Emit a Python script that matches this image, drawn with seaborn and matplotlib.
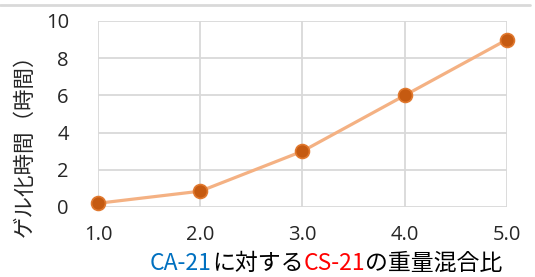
import numpy as np
import pandas as pd
import matplotlib
matplotlib.use("Agg")
import matplotlib.pyplot as plt
import seaborn as sns
from matplotlib.offsetbox import TextArea, HPacker, AnnotationBbox
from matplotlib.lines import Line2D

# data
ratio = [1.0, 2.0, 3.0, 4.0, 5.0]
gel_time = [0.2, 0.85, 3.0, 6.0, 9.0]
y_ticks = [0, 2, 4, 6, 8, 10]

df = pd.DataFrame({"ratio": ratio, "gel_time": gel_time})

sns.set_style("whitegrid", {"grid.color": "#D9D9D9"})
plt.rcParams['font.family'] = ['Noto Sans CJK JP', 'DejaVu Sans']

fig = plt.figure(figsize=(5.35, 2.77), dpi=100)
ax = fig.add_axes([98 / 535, 1 - 207 / 277, 409 / 535, 186 / 277])

sns.lineplot(data=df, x="ratio", y="gel_time", ax=ax, color="#F4B183",
             linewidth=2.3, marker="o", markersize=10,
             markerfacecolor="#C55A11", markeredgecolor="#E0782E",
             markeredgewidth=1.2, clip_on=False, zorder=5)

ax.set_xlim(1.0, 5.0)
ax.set_ylim(0, 10)
ax.set_xticks(ratio)
ax.set_xticklabels([f"{v:.1f}" for v in ratio])
ax.set_yticks(y_ticks)
ax.grid(True, color="#D9D9D9", linewidth=1.3)
for s in ax.spines.values():
    s.set_visible(False)
ax.tick_params(axis="y", length=0, pad=21, labelsize=14.5)
ax.tick_params(axis="x", length=0, pad=13, labelsize=14.5)
for lab in ax.get_xticklabels() + ax.get_yticklabels():
    lab.set_fontfamily(["Open Sans", "DejaVu Sans"])
ax.set_xlabel("")
ax.set_ylabel("")

# y label
fig.text(25 / 535, 1 - 140 / 277, "ゲル化時間（時間）", rotation=90,
         ha="center", va="center", fontsize=15.5)

# x label with coloured parts
parts = [("CA-21", "#0070C0"), ("に対する", "black"),
         ("CS-21", "#FF0000"), ("の重量混合比", "black")]
boxes = [TextArea(t, textprops=dict(color=c, fontsize=16.5)) for t, c in parts]
pack = HPacker(children=boxes, align="baseline", pad=0, sep=0)
ab = AnnotationBbox(pack, (326 / 535, 1 - 263 / 277), xycoords="figure fraction",
                    frameon=False, box_alignment=(0.5, 0.5))
fig.add_artist(ab)

# thin rule at the top
fig.add_artist(Line2D([0, 530 / 535], [1 - 5 / 277, 1 - 5 / 277],
                      transform=fig.transFigure, color="#D9D9D9", linewidth=2))

fig.savefig("out.png", dpi=100)
